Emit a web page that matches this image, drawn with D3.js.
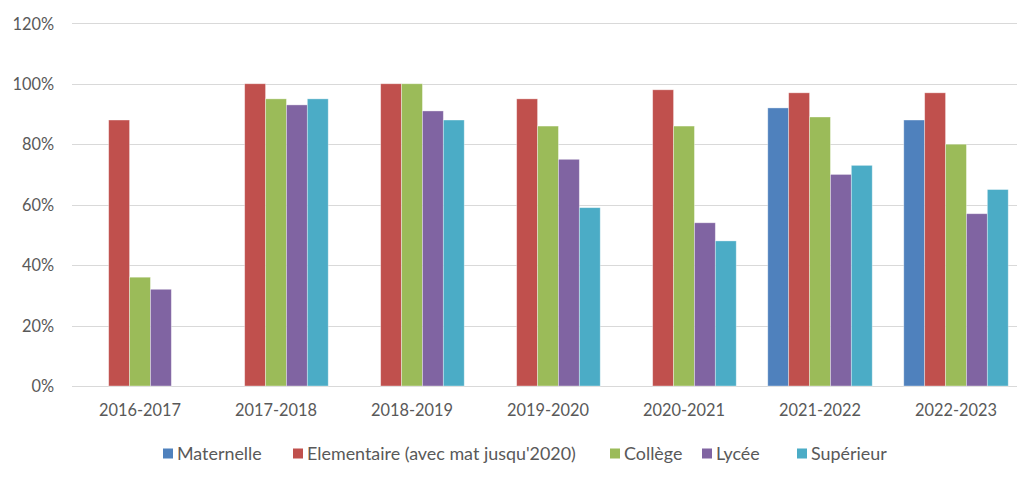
<!DOCTYPE html>
<html><head><meta charset="utf-8">
<script src="https://cdn.jsdelivr.net/npm/d3@7"></script>
<style>html,body{margin:0;padding:0;background:#fff;}svg{display:block;}</style>
</head><body>
<svg id="c" width="1017" height="479"></svg>
<script>
const categories = ["2016-2017","2017-2018","2018-2019","2019-2020","2020-2021","2021-2022","2022-2023"];
const seriesNames = ["Maternelle","Elementaire (avec mat jusqu'2020)","Collège","Lycée","Supérieur"];
const seriesColors = ["#4F81BD","#C0504D","#9BBB59","#8064A2","#4BACC6"];
const maternelle  = [null, null, null, null, null, 0.92, 0.88];
const elementaire = [0.88, 1.00, 1.00, 0.95, 0.98, 0.97, 0.97];
const college     = [0.36, 0.95, 1.00, 0.86, 0.86, 0.89, 0.80];
const lycee       = [0.32, 0.93, 0.91, 0.75, 0.54, 0.70, 0.57];
const superieur   = [null, 0.95, 0.88, 0.59, 0.48, 0.73, 0.65];
const yTicks = [0, 0.2, 0.4, 0.6, 0.8, 1.0, 1.2];

const seriesValues = [maternelle, elementaire, college, lycee, superieur];
const svg = d3.select("#c");
const FONT = "Lato, 'Open Sans', sans-serif";
const TXT = "#595959";

function fitSize(str, target) {
  const p = svg.append("text").attr("font-family", FONT).attr("font-size", 100).text(str);
  const w = p.node().getComputedTextLength();
  p.remove();
  return 100 * target / w;
}
const fs = fitSize("2016-2017", 82);
const fsLeg = fitSize("Elementaire (avec mat jusqu'2020)", 269);

const plotL = 72, plotR = 1024, y0 = 386, yTop = 23.3;
const x0 = d3.scaleBand().domain(categories).range([plotL, plotR]).paddingInner(0.232).paddingOuter(0.116);
const x1 = d3.scaleBand().domain(seriesNames).range([0, x0.bandwidth()]).padding(0);
const y = d3.scaleLinear().domain([0, 1.2]).range([y0, yTop]);

// gridlines
svg.append("g").selectAll("line").data(yTicks).join("line")
  .attr("x1", plotL).attr("x2", 1017)
  .attr("y1", d => Math.round(y(d)) + 0.5).attr("y2", d => Math.round(y(d)) + 0.5)
  .attr("stroke", "#d9d9d9").attr("stroke-width", 1);

// y axis labels
const yAxis = d3.axisLeft(y).tickValues(yTicks).tickFormat(d3.format(".0%")).tickSize(0).tickPadding(0);
const gy = svg.append("g").attr("transform", "translate(54,0)").call(yAxis);
gy.select(".domain").remove();
gy.selectAll("text").attr("font-family", FONT).attr("font-size", fs).attr("fill", TXT).attr("dy", "0.35em");

// bars
const groups = svg.append("g").selectAll("g").data(categories).join("g")
  .attr("transform", d => `translate(${x0(d)},0)`);
groups.selectAll("rect").data((c, i) => seriesNames.map((s, k) => ({s, k, v: seriesValues[k][i]})).filter(d => d.v != null))
  .join("rect")
  .attr("x", d => x1(d.s)).attr("width", x1.bandwidth())
  .attr("y", d => y(d.v)).attr("height", d => y0 - y(d.v))
  .attr("fill", d => seriesColors[d.k])
  .attr("stroke", "rgba(255,255,255,0.45)").attr("stroke-width", 0.8);

// x axis labels
const xAxis = d3.axisBottom(x0).tickSize(0).tickPadding(0);
const gx = svg.append("g").attr("transform", "translate(0,410)").call(xAxis);
gx.select(".domain").remove();
gx.selectAll("text").attr("font-family", FONT).attr("font-size", fs).attr("fill", TXT).attr("dy", "0.35em");

// legend
const legendStarts = [163, 293, 610, 702, 797];
const lg = svg.append("g").selectAll("g").data(seriesNames).join("g")
  .attr("transform", (d, i) => `translate(${legendStarts[i]},0)`);
lg.append("rect").attr("x", 0).attr("y", 448.5).attr("width", 10).attr("height", 10)
  .attr("fill", (d, i) => seriesColors[i]);
lg.append("text").attr("x", 14).attr("y", 453.5).attr("dy", "0.35em")
  .attr("font-family", FONT).attr("font-size", fsLeg).attr("fill", TXT).text(d => d);
</script>
</body></html>
